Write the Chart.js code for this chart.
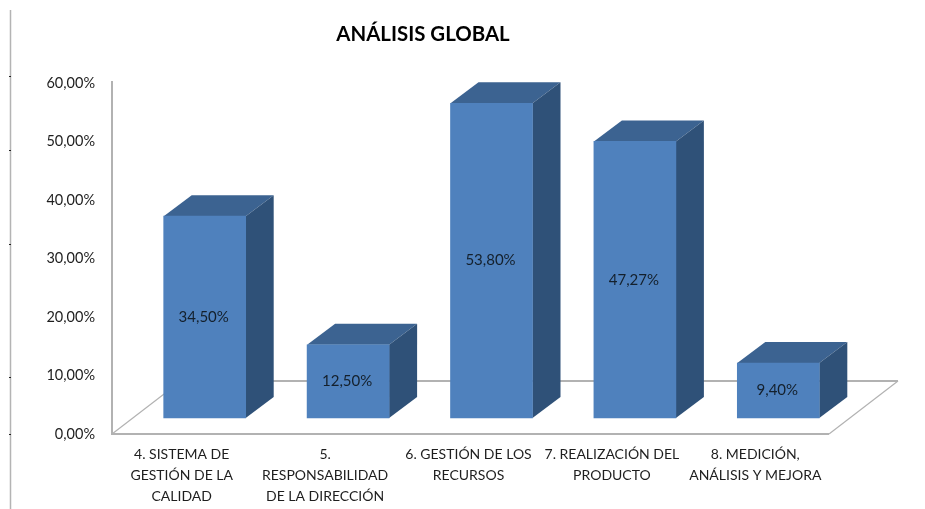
<!DOCTYPE html>
<html>
<head>
<meta charset="utf-8">
<style>html,body{margin:0;padding:0;background:#fff}canvas{display:block}</style>
<script src="https://cdn.jsdelivr.net/npm/chart.js@4"></script>
</head>
<body>
<canvas id="c" width="925" height="509"></canvas>
<script>
const chartTitle = 'ANÁLISIS GLOBAL';
const categories = [
  ['4. SISTEMA DE', 'GESTIÓN DE LA', 'CALIDAD'],
  ['5.', 'RESPONSABILIDAD', 'DE LA DIRECCIÓN'],
  ['6. GESTIÓN DE LOS', 'RECURSOS'],
  ['7. REALIZACIÓN DEL', 'PRODUCTO'],
  ['8. MEDICIÓN,', 'ANÁLISIS Y MEJORA']
];
const seriesValues = [34.5, 12.5, 53.8, 47.27, 9.4];
const yMax = 60;
const yStep = 10;

const fontFamily = 'Lato, "Open Sans", sans-serif';
const fmt = v => v.toFixed(2).replace('.', ',') + '%';

const bars3d = {
  id: 'bars3d',
  beforeDraw(chart) {
    const c = chart.ctx;
    // stray ruler line at the far left of the source image
    c.save();
    c.strokeStyle = '#b4b4b4'; c.lineWidth = 1.5;
    c.beginPath(); c.moveTo(10.5, 10); c.lineTo(10.5, 509); c.stroke();
    c.fillStyle = '#222';
    [76, 150, 244, 377, 434].forEach(y => c.fillRect(9, y, 2, 1));
    c.restore();
  },
  beforeDatasetsDraw(chart) {
    const c = chart.ctx, a = chart.chartArea;
    const b = a.bottom, l = a.left, r = a.right, fx = 69, fy = 53;
    c.save();
    c.strokeStyle = '#b2b2b2';
    c.lineWidth = 1.2;
    c.beginPath(); c.moveTo(l, b); c.lineTo(l + fx, b - fy); c.stroke();
    c.beginPath(); c.moveTo(r, b); c.lineTo(r + fx, b - fy); c.stroke();
    c.lineWidth = 2;
    c.beginPath(); c.moveTo(l + fx, b - fy); c.lineTo(r + fx, b - fy); c.stroke();
    c.beginPath(); c.moveTo(l, b); c.lineTo(r, b); c.stroke();
    c.beginPath(); c.moveTo(l, a.top - 2); c.lineTo(l, b + 1); c.stroke();
    c.restore();

    // shift of the front plane of the bars, and extrusion depth
    const ox = 21, oy = -16, dx = 28, dy = 21;
    const meta = chart.getDatasetMeta(0);
    c.save();
    c.translate(ox, oy);
    meta.data.forEach(bar => {
      const x0 = bar.x - bar.width / 2, x1 = bar.x + bar.width / 2;
      c.fillStyle = '#3c6391';
      c.beginPath();
      c.moveTo(x0, bar.y); c.lineTo(x0 + dx, bar.y - dy);
      c.lineTo(x1 + dx, bar.y - dy); c.lineTo(x1, bar.y);
      c.closePath(); c.fill();
      c.fillStyle = '#2f5178';
      c.beginPath();
      c.moveTo(x1, bar.y); c.lineTo(x1 + dx, bar.y - dy);
      c.lineTo(x1 + dx, bar.base - dy); c.lineTo(x1, bar.base);
      c.closePath(); c.fill();
    });
    c.restore();
    c.save();
    c.translate(ox, oy);
  },
  afterDatasetsDraw(chart) {
    const c = chart.ctx;
    c.restore();
    const ox = 21, oy = -16;
    c.save();
    c.font = '15px ' + fontFamily;
    c.fillStyle = '#14202c';
    c.textAlign = 'center';
    c.textBaseline = 'middle';
    chart.getDatasetMeta(0).data.forEach((bar, i) => {
      c.fillText(fmt(seriesValues[i]), bar.x + ox - 1, (bar.y + bar.base) / 2 + oy);
    });
    c.restore();
  }
};

new Chart(document.getElementById('c'), {
  type: 'bar',
  data: {
    labels: categories,
    datasets: [{
      data: seriesValues,
      backgroundColor: '#4f81bd',
      borderWidth: 0,
      barThickness: 82,
      clip: false
    }]
  },
  plugins: [bars3d],
  options: {
    responsive: false,
    animation: false,
    layout: { padding: { left: 17, right: 96, top: 0, bottom: 0 } },
    plugins: {
      legend: { display: false },
      tooltip: { enabled: false },
      title: {
        display: true,
        text: chartTitle,
        color: '#000',
        font: { family: fontFamily, size: 20.4, weight: 'bold', lineHeight: 1.2 },
        padding: { top: 22, bottom: 36.5 }
      }
    },
    scales: {
      x: {
        grid: { display: false, drawTicks: false },
        border: { display: false },
        afterFit(s) { s.height = 75; },
        ticks: {
          color: '#1e1e1e',
          padding: 10,
          labelOffset: -2,
          autoSkip: false,
          maxRotation: 0,
          font: { family: fontFamily, size: 14, lineHeight: 1.5 }
        }
      },
      y: {
        min: 0,
        max: yMax,
        grid: { display: false, drawTicks: false },
        border: { display: false },
        afterFit(s) { s.width = 95; },
        ticks: {
          stepSize: yStep,
          color: '#1e1e1e',
          padding: 17,
          font: { family: fontFamily, size: 14.5 },
          callback: v => fmt(v)
        }
      }
    }
  }
});
</script>
</body>
</html>
